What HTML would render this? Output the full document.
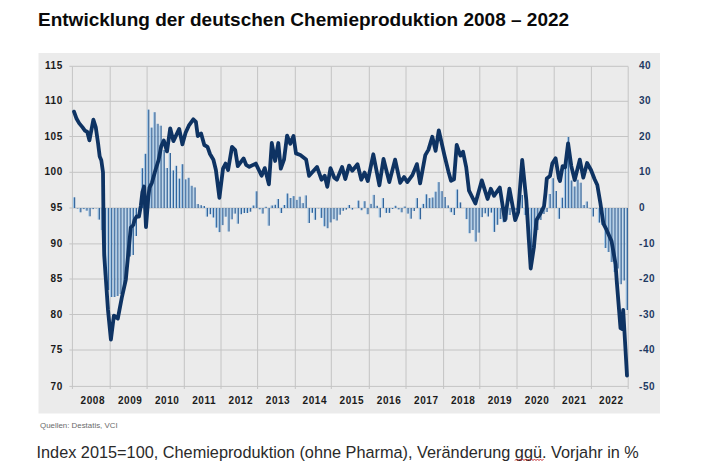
<!DOCTYPE html>
<html><head><meta charset="utf-8"><style>
html,body{margin:0;padding:0;background:#fff;width:702px;height:467px;overflow:hidden;}
svg{position:absolute;left:0;top:0;}
.ax{font-family:"Liberation Sans",sans-serif;font-weight:bold;font-size:10px;letter-spacing:0.55px;fill:#1a1a1a;}
.ar{font-family:"Liberation Sans",sans-serif;font-weight:bold;font-size:10px;letter-spacing:0.55px;fill:#1f3a63;}
.title{position:absolute;left:38px;top:9px;font-family:"Liberation Sans",sans-serif;font-weight:bold;font-size:19px;color:#0a0a0a;white-space:nowrap;}
.src{position:absolute;left:40px;top:420.5px;font-family:"Liberation Sans",sans-serif;font-size:7.9px;color:#6a6a6a;white-space:nowrap;}
.foot{position:absolute;left:36.5px;top:443px;font-family:"Liberation Sans",sans-serif;font-size:16.3px;color:#2a2a2a;white-space:nowrap;}
.sq{text-decoration:underline wavy #d02020;text-decoration-thickness:1px;text-underline-offset:2px;}
</style></head><body>
<svg width="702" height="467" viewBox="0 0 702 467">
<rect x="38.5" y="53" width="621.5" height="360.5" fill="#ebebeb"/>
<line x1="69.4" y1="66.3" x2="628.2" y2="66.3" stroke="#c4c4c4" stroke-width="1"/>
<line x1="69.4" y1="101.3" x2="628.2" y2="101.3" stroke="#c4c4c4" stroke-width="1"/>
<line x1="69.4" y1="136.5" x2="628.2" y2="136.5" stroke="#c4c4c4" stroke-width="1"/>
<line x1="69.4" y1="172.3" x2="628.2" y2="172.3" stroke="#c4c4c4" stroke-width="1"/>
<line x1="69.4" y1="208" x2="628.2" y2="208" stroke="#c4c4c4" stroke-width="1"/>
<line x1="69.4" y1="243.9" x2="628.2" y2="243.9" stroke="#c4c4c4" stroke-width="1"/>
<line x1="69.4" y1="279" x2="628.2" y2="279" stroke="#c4c4c4" stroke-width="1"/>
<line x1="69.4" y1="314.5" x2="628.2" y2="314.5" stroke="#c4c4c4" stroke-width="1"/>
<line x1="69.4" y1="350" x2="628.2" y2="350" stroke="#c4c4c4" stroke-width="1"/>
<line x1="69.4" y1="386.4" x2="628.2" y2="386.4" stroke="#c4c4c4" stroke-width="1"/>
<line x1="72.4" y1="66.5" x2="72.4" y2="389.0" stroke="#c4c4c4" stroke-width="1"/>
<line x1="110.2" y1="66.5" x2="110.2" y2="389.0" stroke="#c4c4c4" stroke-width="1"/>
<line x1="147.1" y1="66.5" x2="147.1" y2="389.0" stroke="#c4c4c4" stroke-width="1"/>
<line x1="184.3" y1="66.5" x2="184.3" y2="389.0" stroke="#c4c4c4" stroke-width="1"/>
<line x1="221" y1="66.5" x2="221" y2="389.0" stroke="#c4c4c4" stroke-width="1"/>
<line x1="257.6" y1="66.5" x2="257.6" y2="389.0" stroke="#c4c4c4" stroke-width="1"/>
<line x1="295.3" y1="66.5" x2="295.3" y2="389.0" stroke="#c4c4c4" stroke-width="1"/>
<line x1="331.3" y1="66.5" x2="331.3" y2="389.0" stroke="#c4c4c4" stroke-width="1"/>
<line x1="369.3" y1="66.5" x2="369.3" y2="389.0" stroke="#c4c4c4" stroke-width="1"/>
<line x1="406" y1="66.5" x2="406" y2="389.0" stroke="#c4c4c4" stroke-width="1"/>
<line x1="443.6" y1="66.5" x2="443.6" y2="389.0" stroke="#c4c4c4" stroke-width="1"/>
<line x1="479.8" y1="66.5" x2="479.8" y2="389.0" stroke="#c4c4c4" stroke-width="1"/>
<line x1="517" y1="66.5" x2="517" y2="389.0" stroke="#c4c4c4" stroke-width="1"/>
<line x1="554.2" y1="66.5" x2="554.2" y2="389.0" stroke="#c4c4c4" stroke-width="1"/>
<line x1="591.4" y1="66.5" x2="591.4" y2="389.0" stroke="#c4c4c4" stroke-width="1"/>
<line x1="628.2" y1="66.5" x2="628.2" y2="389.0" stroke="#c4c4c4" stroke-width="1"/>
<rect x="72.94" y="197.30" width="1.1" height="10.70" fill="#9fc6e8"/>
<rect x="74.04" y="197.30" width="1.2" height="10.70" fill="#33649a"/>
<rect x="76.03" y="208.00" width="1.1" height="0.50" fill="#9fc6e8"/>
<rect x="77.13" y="208.00" width="1.2" height="0.50" fill="#33649a"/>
<rect x="79.12" y="208.00" width="1.1" height="4.30" fill="#9fc6e8"/>
<rect x="80.22" y="208.00" width="1.2" height="4.30" fill="#33649a"/>
<rect x="82.21" y="208.00" width="1.1" height="1.10" fill="#9fc6e8"/>
<rect x="83.31" y="208.00" width="1.2" height="1.10" fill="#33649a"/>
<rect x="85.30" y="208.00" width="1.1" height="2.70" fill="#9fc6e8"/>
<rect x="86.39" y="208.00" width="1.2" height="2.70" fill="#33649a"/>
<rect x="88.38" y="208.00" width="1.1" height="8.30" fill="#9fc6e8"/>
<rect x="89.48" y="208.00" width="1.2" height="8.30" fill="#33649a"/>
<rect x="91.47" y="208.00" width="1.1" height="1.10" fill="#9fc6e8"/>
<rect x="92.57" y="208.00" width="1.2" height="1.10" fill="#33649a"/>
<rect x="94.56" y="208.00" width="1.1" height="0.30" fill="#9fc6e8"/>
<rect x="95.66" y="208.00" width="1.2" height="0.30" fill="#33649a"/>
<rect x="97.65" y="208.00" width="1.1" height="11.60" fill="#9fc6e8"/>
<rect x="98.75" y="208.00" width="1.2" height="11.60" fill="#33649a"/>
<rect x="100.73" y="208.00" width="1.1" height="22.00" fill="#9fc6e8"/>
<rect x="101.83" y="208.00" width="1.2" height="22.00" fill="#33649a"/>
<rect x="103.82" y="208.00" width="1.1" height="67.00" fill="#9fc6e8"/>
<rect x="104.92" y="208.00" width="1.2" height="67.00" fill="#33649a"/>
<rect x="106.91" y="208.00" width="1.1" height="82.00" fill="#9fc6e8"/>
<rect x="108.01" y="208.00" width="1.2" height="82.00" fill="#33649a"/>
<rect x="110.00" y="208.00" width="1.1" height="89.00" fill="#9fc6e8"/>
<rect x="111.10" y="208.00" width="1.2" height="89.00" fill="#33649a"/>
<rect x="113.09" y="208.00" width="1.1" height="89.00" fill="#9fc6e8"/>
<rect x="114.19" y="208.00" width="1.2" height="89.00" fill="#33649a"/>
<rect x="116.17" y="208.00" width="1.1" height="88.00" fill="#9fc6e8"/>
<rect x="117.27" y="208.00" width="1.2" height="88.00" fill="#33649a"/>
<rect x="119.26" y="208.00" width="1.1" height="86.00" fill="#9fc6e8"/>
<rect x="120.36" y="208.00" width="1.2" height="86.00" fill="#33649a"/>
<rect x="122.35" y="208.00" width="1.1" height="81.00" fill="#9fc6e8"/>
<rect x="123.45" y="208.00" width="1.2" height="81.00" fill="#33649a"/>
<rect x="125.44" y="208.00" width="1.1" height="64.00" fill="#9fc6e8"/>
<rect x="126.54" y="208.00" width="1.2" height="64.00" fill="#33649a"/>
<rect x="128.52" y="208.00" width="1.1" height="48.50" fill="#9fc6e8"/>
<rect x="129.62" y="208.00" width="1.2" height="48.50" fill="#33649a"/>
<rect x="131.61" y="208.00" width="1.1" height="47.00" fill="#9fc6e8"/>
<rect x="132.71" y="208.00" width="1.2" height="47.00" fill="#33649a"/>
<rect x="134.70" y="208.00" width="1.1" height="28.00" fill="#9fc6e8"/>
<rect x="135.80" y="208.00" width="1.2" height="28.00" fill="#33649a"/>
<rect x="137.79" y="208.00" width="1.1" height="8.00" fill="#9fc6e8"/>
<rect x="138.89" y="208.00" width="1.2" height="8.00" fill="#33649a"/>
<rect x="140.88" y="168.20" width="1.1" height="39.80" fill="#9fc6e8"/>
<rect x="141.97" y="168.20" width="1.2" height="39.80" fill="#33649a"/>
<rect x="143.96" y="153.80" width="1.1" height="54.20" fill="#9fc6e8"/>
<rect x="145.06" y="153.80" width="1.2" height="54.20" fill="#33649a"/>
<rect x="147.05" y="109.60" width="1.1" height="98.40" fill="#9fc6e8"/>
<rect x="148.15" y="109.60" width="1.2" height="98.40" fill="#33649a"/>
<rect x="150.14" y="127.60" width="1.1" height="80.40" fill="#9fc6e8"/>
<rect x="151.24" y="127.60" width="1.2" height="80.40" fill="#33649a"/>
<rect x="153.23" y="112.20" width="1.1" height="95.80" fill="#9fc6e8"/>
<rect x="154.33" y="112.20" width="1.2" height="95.80" fill="#33649a"/>
<rect x="156.31" y="123.80" width="1.1" height="84.20" fill="#9fc6e8"/>
<rect x="157.41" y="123.80" width="1.2" height="84.20" fill="#33649a"/>
<rect x="159.40" y="125.70" width="1.1" height="82.30" fill="#9fc6e8"/>
<rect x="160.50" y="125.70" width="1.2" height="82.30" fill="#33649a"/>
<rect x="162.49" y="150.00" width="1.1" height="58.00" fill="#9fc6e8"/>
<rect x="163.59" y="150.00" width="1.2" height="58.00" fill="#33649a"/>
<rect x="165.58" y="168.00" width="1.1" height="40.00" fill="#9fc6e8"/>
<rect x="166.68" y="168.00" width="1.2" height="40.00" fill="#33649a"/>
<rect x="168.67" y="153.00" width="1.1" height="55.00" fill="#9fc6e8"/>
<rect x="169.77" y="153.00" width="1.2" height="55.00" fill="#33649a"/>
<rect x="171.75" y="170.40" width="1.1" height="37.60" fill="#9fc6e8"/>
<rect x="172.85" y="170.40" width="1.2" height="37.60" fill="#33649a"/>
<rect x="174.84" y="165.80" width="1.1" height="42.20" fill="#9fc6e8"/>
<rect x="175.94" y="165.80" width="1.2" height="42.20" fill="#33649a"/>
<rect x="177.93" y="178.60" width="1.1" height="29.40" fill="#9fc6e8"/>
<rect x="179.03" y="178.60" width="1.2" height="29.40" fill="#33649a"/>
<rect x="181.02" y="164.20" width="1.1" height="43.80" fill="#9fc6e8"/>
<rect x="182.12" y="164.20" width="1.2" height="43.80" fill="#33649a"/>
<rect x="184.10" y="179.40" width="1.1" height="28.60" fill="#9fc6e8"/>
<rect x="185.20" y="179.40" width="1.2" height="28.60" fill="#33649a"/>
<rect x="187.19" y="177.80" width="1.1" height="30.20" fill="#9fc6e8"/>
<rect x="188.29" y="177.80" width="1.2" height="30.20" fill="#33649a"/>
<rect x="190.28" y="185.80" width="1.1" height="22.20" fill="#9fc6e8"/>
<rect x="191.38" y="185.80" width="1.2" height="22.20" fill="#33649a"/>
<rect x="193.37" y="187.40" width="1.1" height="20.60" fill="#9fc6e8"/>
<rect x="194.47" y="187.40" width="1.2" height="20.60" fill="#33649a"/>
<rect x="196.46" y="204.00" width="1.1" height="4.00" fill="#9fc6e8"/>
<rect x="197.56" y="204.00" width="1.2" height="4.00" fill="#33649a"/>
<rect x="199.54" y="205.20" width="1.1" height="2.80" fill="#9fc6e8"/>
<rect x="200.64" y="205.20" width="1.2" height="2.80" fill="#33649a"/>
<rect x="202.63" y="206.00" width="1.1" height="2.00" fill="#9fc6e8"/>
<rect x="203.73" y="206.00" width="1.2" height="2.00" fill="#33649a"/>
<rect x="205.72" y="208.00" width="1.1" height="8.60" fill="#9fc6e8"/>
<rect x="206.82" y="208.00" width="1.2" height="8.60" fill="#33649a"/>
<rect x="208.81" y="208.00" width="1.1" height="6.20" fill="#9fc6e8"/>
<rect x="209.91" y="208.00" width="1.2" height="6.20" fill="#33649a"/>
<rect x="211.89" y="208.00" width="1.1" height="9.50" fill="#9fc6e8"/>
<rect x="212.99" y="208.00" width="1.2" height="9.50" fill="#33649a"/>
<rect x="214.98" y="208.00" width="1.1" height="19.60" fill="#9fc6e8"/>
<rect x="216.08" y="208.00" width="1.2" height="19.60" fill="#33649a"/>
<rect x="218.07" y="208.00" width="1.1" height="24.10" fill="#9fc6e8"/>
<rect x="219.17" y="208.00" width="1.2" height="24.10" fill="#33649a"/>
<rect x="221.16" y="208.00" width="1.1" height="17.10" fill="#9fc6e8"/>
<rect x="222.26" y="208.00" width="1.2" height="17.10" fill="#33649a"/>
<rect x="224.25" y="208.00" width="1.1" height="8.70" fill="#9fc6e8"/>
<rect x="225.35" y="208.00" width="1.2" height="8.70" fill="#33649a"/>
<rect x="227.33" y="208.00" width="1.1" height="23.50" fill="#9fc6e8"/>
<rect x="228.43" y="208.00" width="1.2" height="23.50" fill="#33649a"/>
<rect x="230.42" y="208.00" width="1.1" height="11.30" fill="#9fc6e8"/>
<rect x="231.52" y="208.00" width="1.2" height="11.30" fill="#33649a"/>
<rect x="233.51" y="208.00" width="1.1" height="5.60" fill="#9fc6e8"/>
<rect x="234.61" y="208.00" width="1.2" height="5.60" fill="#33649a"/>
<rect x="236.60" y="208.00" width="1.1" height="15.70" fill="#9fc6e8"/>
<rect x="237.70" y="208.00" width="1.2" height="15.70" fill="#33649a"/>
<rect x="239.68" y="208.00" width="1.1" height="6.20" fill="#9fc6e8"/>
<rect x="240.78" y="208.00" width="1.2" height="6.20" fill="#33649a"/>
<rect x="242.77" y="208.00" width="1.1" height="5.00" fill="#9fc6e8"/>
<rect x="243.87" y="208.00" width="1.2" height="5.00" fill="#33649a"/>
<rect x="245.86" y="208.00" width="1.1" height="5.00" fill="#9fc6e8"/>
<rect x="246.96" y="208.00" width="1.2" height="5.00" fill="#33649a"/>
<rect x="248.95" y="208.00" width="1.1" height="3.70" fill="#9fc6e8"/>
<rect x="250.05" y="208.00" width="1.2" height="3.70" fill="#33649a"/>
<rect x="252.04" y="205.50" width="1.1" height="2.50" fill="#9fc6e8"/>
<rect x="253.14" y="205.50" width="1.2" height="2.50" fill="#33649a"/>
<rect x="255.12" y="191.30" width="1.1" height="16.70" fill="#9fc6e8"/>
<rect x="256.22" y="191.30" width="1.2" height="16.70" fill="#33649a"/>
<rect x="258.21" y="208.00" width="1.1" height="1.30" fill="#9fc6e8"/>
<rect x="259.31" y="208.00" width="1.2" height="1.30" fill="#33649a"/>
<rect x="261.30" y="208.00" width="1.1" height="5.60" fill="#9fc6e8"/>
<rect x="262.40" y="208.00" width="1.2" height="5.60" fill="#33649a"/>
<rect x="264.39" y="206.80" width="1.1" height="1.20" fill="#9fc6e8"/>
<rect x="265.49" y="206.80" width="1.2" height="1.20" fill="#33649a"/>
<rect x="267.47" y="208.00" width="1.1" height="17.70" fill="#9fc6e8"/>
<rect x="268.57" y="208.00" width="1.2" height="17.70" fill="#33649a"/>
<rect x="270.56" y="205.50" width="1.1" height="2.50" fill="#9fc6e8"/>
<rect x="271.66" y="205.50" width="1.2" height="2.50" fill="#33649a"/>
<rect x="273.65" y="204.80" width="1.1" height="3.20" fill="#9fc6e8"/>
<rect x="274.75" y="204.80" width="1.2" height="3.20" fill="#33649a"/>
<rect x="276.74" y="199.00" width="1.1" height="9.00" fill="#9fc6e8"/>
<rect x="277.84" y="199.00" width="1.2" height="9.00" fill="#33649a"/>
<rect x="279.83" y="208.00" width="1.1" height="5.00" fill="#9fc6e8"/>
<rect x="280.93" y="208.00" width="1.2" height="5.00" fill="#33649a"/>
<rect x="282.91" y="205.00" width="1.1" height="3.00" fill="#9fc6e8"/>
<rect x="284.01" y="205.00" width="1.2" height="3.00" fill="#33649a"/>
<rect x="286.00" y="193.50" width="1.1" height="14.50" fill="#9fc6e8"/>
<rect x="287.10" y="193.50" width="1.2" height="14.50" fill="#33649a"/>
<rect x="289.09" y="198.00" width="1.1" height="10.00" fill="#9fc6e8"/>
<rect x="290.19" y="198.00" width="1.2" height="10.00" fill="#33649a"/>
<rect x="292.18" y="196.10" width="1.1" height="11.90" fill="#9fc6e8"/>
<rect x="293.28" y="196.10" width="1.2" height="11.90" fill="#33649a"/>
<rect x="295.26" y="199.90" width="1.1" height="8.10" fill="#9fc6e8"/>
<rect x="296.36" y="199.90" width="1.2" height="8.10" fill="#33649a"/>
<rect x="298.35" y="196.70" width="1.1" height="11.30" fill="#9fc6e8"/>
<rect x="299.45" y="196.70" width="1.2" height="11.30" fill="#33649a"/>
<rect x="301.44" y="203.10" width="1.1" height="4.90" fill="#9fc6e8"/>
<rect x="302.54" y="203.10" width="1.2" height="4.90" fill="#33649a"/>
<rect x="304.53" y="195.40" width="1.1" height="12.60" fill="#9fc6e8"/>
<rect x="305.63" y="195.40" width="1.2" height="12.60" fill="#33649a"/>
<rect x="307.62" y="208.00" width="1.1" height="15.00" fill="#9fc6e8"/>
<rect x="308.72" y="208.00" width="1.2" height="15.00" fill="#33649a"/>
<rect x="310.70" y="208.00" width="1.1" height="4.80" fill="#9fc6e8"/>
<rect x="311.80" y="208.00" width="1.2" height="4.80" fill="#33649a"/>
<rect x="313.79" y="208.00" width="1.1" height="11.80" fill="#9fc6e8"/>
<rect x="314.89" y="208.00" width="1.2" height="11.80" fill="#33649a"/>
<rect x="316.88" y="208.00" width="1.1" height="0.30" fill="#9fc6e8"/>
<rect x="317.98" y="208.00" width="1.2" height="0.30" fill="#33649a"/>
<rect x="319.97" y="208.00" width="1.1" height="9.90" fill="#9fc6e8"/>
<rect x="321.07" y="208.00" width="1.2" height="9.90" fill="#33649a"/>
<rect x="323.05" y="208.00" width="1.1" height="18.30" fill="#9fc6e8"/>
<rect x="324.15" y="208.00" width="1.2" height="18.30" fill="#33649a"/>
<rect x="326.14" y="208.00" width="1.1" height="20.20" fill="#9fc6e8"/>
<rect x="327.24" y="208.00" width="1.2" height="20.20" fill="#33649a"/>
<rect x="329.23" y="208.00" width="1.1" height="14.40" fill="#9fc6e8"/>
<rect x="330.33" y="208.00" width="1.2" height="14.40" fill="#33649a"/>
<rect x="332.32" y="208.00" width="1.1" height="11.20" fill="#9fc6e8"/>
<rect x="333.42" y="208.00" width="1.2" height="11.20" fill="#33649a"/>
<rect x="335.41" y="208.00" width="1.1" height="12.50" fill="#9fc6e8"/>
<rect x="336.51" y="208.00" width="1.2" height="12.50" fill="#33649a"/>
<rect x="338.49" y="208.00" width="1.1" height="6.70" fill="#9fc6e8"/>
<rect x="339.59" y="208.00" width="1.2" height="6.70" fill="#33649a"/>
<rect x="341.58" y="208.00" width="1.1" height="2.80" fill="#9fc6e8"/>
<rect x="342.68" y="208.00" width="1.2" height="2.80" fill="#33649a"/>
<rect x="344.67" y="208.00" width="1.1" height="1.60" fill="#9fc6e8"/>
<rect x="345.77" y="208.00" width="1.2" height="1.60" fill="#33649a"/>
<rect x="347.76" y="205.00" width="1.1" height="3.00" fill="#9fc6e8"/>
<rect x="348.86" y="205.00" width="1.2" height="3.00" fill="#33649a"/>
<rect x="350.84" y="208.00" width="1.1" height="1.60" fill="#9fc6e8"/>
<rect x="351.94" y="208.00" width="1.2" height="1.60" fill="#33649a"/>
<rect x="353.93" y="208.00" width="1.1" height="0.00" fill="#9fc6e8"/>
<rect x="355.03" y="208.00" width="1.2" height="0.00" fill="#33649a"/>
<rect x="357.02" y="200.60" width="1.1" height="7.40" fill="#9fc6e8"/>
<rect x="358.12" y="200.60" width="1.2" height="7.40" fill="#33649a"/>
<rect x="360.11" y="208.00" width="1.1" height="2.20" fill="#9fc6e8"/>
<rect x="361.21" y="208.00" width="1.2" height="2.20" fill="#33649a"/>
<rect x="363.20" y="201.20" width="1.1" height="6.80" fill="#9fc6e8"/>
<rect x="364.30" y="201.20" width="1.2" height="6.80" fill="#33649a"/>
<rect x="366.28" y="208.00" width="1.1" height="6.20" fill="#9fc6e8"/>
<rect x="367.38" y="208.00" width="1.2" height="6.20" fill="#33649a"/>
<rect x="369.37" y="203.90" width="1.1" height="4.10" fill="#9fc6e8"/>
<rect x="370.47" y="203.90" width="1.2" height="4.10" fill="#33649a"/>
<rect x="372.46" y="194.90" width="1.1" height="13.10" fill="#9fc6e8"/>
<rect x="373.56" y="194.90" width="1.2" height="13.10" fill="#33649a"/>
<rect x="375.55" y="205.80" width="1.1" height="2.20" fill="#9fc6e8"/>
<rect x="376.65" y="205.80" width="1.2" height="2.20" fill="#33649a"/>
<rect x="378.63" y="208.00" width="1.1" height="9.40" fill="#9fc6e8"/>
<rect x="379.73" y="208.00" width="1.2" height="9.40" fill="#33649a"/>
<rect x="381.72" y="198.10" width="1.1" height="9.90" fill="#9fc6e8"/>
<rect x="382.82" y="198.10" width="1.2" height="9.90" fill="#33649a"/>
<rect x="384.81" y="208.00" width="1.1" height="4.90" fill="#9fc6e8"/>
<rect x="385.91" y="208.00" width="1.2" height="4.90" fill="#33649a"/>
<rect x="387.90" y="208.00" width="1.1" height="4.90" fill="#9fc6e8"/>
<rect x="389.00" y="208.00" width="1.2" height="4.90" fill="#33649a"/>
<rect x="390.99" y="208.00" width="1.1" height="1.00" fill="#9fc6e8"/>
<rect x="392.09" y="208.00" width="1.2" height="1.00" fill="#33649a"/>
<rect x="394.07" y="205.80" width="1.1" height="2.20" fill="#9fc6e8"/>
<rect x="395.17" y="205.80" width="1.2" height="2.20" fill="#33649a"/>
<rect x="397.16" y="208.00" width="1.1" height="1.40" fill="#9fc6e8"/>
<rect x="398.26" y="208.00" width="1.2" height="1.40" fill="#33649a"/>
<rect x="400.25" y="208.00" width="1.1" height="4.30" fill="#9fc6e8"/>
<rect x="401.35" y="208.00" width="1.2" height="4.30" fill="#33649a"/>
<rect x="403.34" y="206.50" width="1.1" height="1.50" fill="#9fc6e8"/>
<rect x="404.44" y="206.50" width="1.2" height="1.50" fill="#33649a"/>
<rect x="406.42" y="208.00" width="1.1" height="5.60" fill="#9fc6e8"/>
<rect x="407.52" y="208.00" width="1.2" height="5.60" fill="#33649a"/>
<rect x="409.51" y="208.00" width="1.1" height="10.70" fill="#9fc6e8"/>
<rect x="410.61" y="208.00" width="1.2" height="10.70" fill="#33649a"/>
<rect x="412.60" y="208.00" width="1.1" height="3.00" fill="#9fc6e8"/>
<rect x="413.70" y="208.00" width="1.2" height="3.00" fill="#33649a"/>
<rect x="415.69" y="198.10" width="1.1" height="9.90" fill="#9fc6e8"/>
<rect x="416.79" y="198.10" width="1.2" height="9.90" fill="#33649a"/>
<rect x="418.78" y="208.00" width="1.1" height="11.30" fill="#9fc6e8"/>
<rect x="419.88" y="208.00" width="1.2" height="11.30" fill="#33649a"/>
<rect x="421.86" y="203.90" width="1.1" height="4.10" fill="#9fc6e8"/>
<rect x="422.96" y="203.90" width="1.2" height="4.10" fill="#33649a"/>
<rect x="424.95" y="194.30" width="1.1" height="13.70" fill="#9fc6e8"/>
<rect x="426.05" y="194.30" width="1.2" height="13.70" fill="#33649a"/>
<rect x="428.04" y="198.10" width="1.1" height="9.90" fill="#9fc6e8"/>
<rect x="429.14" y="198.10" width="1.2" height="9.90" fill="#33649a"/>
<rect x="431.13" y="197.50" width="1.1" height="10.50" fill="#9fc6e8"/>
<rect x="432.23" y="197.50" width="1.2" height="10.50" fill="#33649a"/>
<rect x="434.21" y="191.70" width="1.1" height="16.30" fill="#9fc6e8"/>
<rect x="435.31" y="191.70" width="1.2" height="16.30" fill="#33649a"/>
<rect x="437.30" y="182.10" width="1.1" height="25.90" fill="#9fc6e8"/>
<rect x="438.40" y="182.10" width="1.2" height="25.90" fill="#33649a"/>
<rect x="440.39" y="191.10" width="1.1" height="16.90" fill="#9fc6e8"/>
<rect x="441.49" y="191.10" width="1.2" height="16.90" fill="#33649a"/>
<rect x="443.48" y="197.00" width="1.1" height="11.00" fill="#9fc6e8"/>
<rect x="444.58" y="197.00" width="1.2" height="11.00" fill="#33649a"/>
<rect x="446.57" y="205.40" width="1.1" height="2.60" fill="#9fc6e8"/>
<rect x="447.67" y="205.40" width="1.2" height="2.60" fill="#33649a"/>
<rect x="449.65" y="208.00" width="1.1" height="4.20" fill="#9fc6e8"/>
<rect x="450.75" y="208.00" width="1.2" height="4.20" fill="#33649a"/>
<rect x="452.74" y="208.00" width="1.1" height="7.00" fill="#9fc6e8"/>
<rect x="453.84" y="208.00" width="1.2" height="7.00" fill="#33649a"/>
<rect x="455.83" y="189.50" width="1.1" height="18.50" fill="#9fc6e8"/>
<rect x="456.93" y="189.50" width="1.2" height="18.50" fill="#33649a"/>
<rect x="458.92" y="202.40" width="1.1" height="5.60" fill="#9fc6e8"/>
<rect x="460.02" y="202.40" width="1.2" height="5.60" fill="#33649a"/>
<rect x="462.00" y="208.00" width="1.1" height="0.00" fill="#9fc6e8"/>
<rect x="463.10" y="208.00" width="1.2" height="0.00" fill="#33649a"/>
<rect x="465.09" y="208.00" width="1.1" height="11.10" fill="#9fc6e8"/>
<rect x="466.19" y="208.00" width="1.2" height="11.10" fill="#33649a"/>
<rect x="468.18" y="208.00" width="1.1" height="25.20" fill="#9fc6e8"/>
<rect x="469.28" y="208.00" width="1.2" height="25.20" fill="#33649a"/>
<rect x="471.27" y="208.00" width="1.1" height="22.00" fill="#9fc6e8"/>
<rect x="472.37" y="208.00" width="1.2" height="22.00" fill="#33649a"/>
<rect x="474.36" y="208.00" width="1.1" height="33.60" fill="#9fc6e8"/>
<rect x="475.46" y="208.00" width="1.2" height="33.60" fill="#33649a"/>
<rect x="477.44" y="208.00" width="1.1" height="24.60" fill="#9fc6e8"/>
<rect x="478.54" y="208.00" width="1.2" height="24.60" fill="#33649a"/>
<rect x="480.53" y="208.00" width="1.1" height="9.10" fill="#9fc6e8"/>
<rect x="481.63" y="208.00" width="1.2" height="9.10" fill="#33649a"/>
<rect x="483.62" y="208.00" width="1.1" height="5.30" fill="#9fc6e8"/>
<rect x="484.72" y="208.00" width="1.2" height="5.30" fill="#33649a"/>
<rect x="486.71" y="208.00" width="1.1" height="8.50" fill="#9fc6e8"/>
<rect x="487.81" y="208.00" width="1.2" height="8.50" fill="#33649a"/>
<rect x="489.79" y="208.00" width="1.1" height="4.60" fill="#9fc6e8"/>
<rect x="490.89" y="208.00" width="1.2" height="4.60" fill="#33649a"/>
<rect x="492.88" y="208.00" width="1.1" height="23.90" fill="#9fc6e8"/>
<rect x="493.98" y="208.00" width="1.2" height="23.90" fill="#33649a"/>
<rect x="495.97" y="208.00" width="1.1" height="16.80" fill="#9fc6e8"/>
<rect x="497.07" y="208.00" width="1.2" height="16.80" fill="#33649a"/>
<rect x="499.06" y="208.00" width="1.1" height="11.00" fill="#9fc6e8"/>
<rect x="500.16" y="208.00" width="1.2" height="11.00" fill="#33649a"/>
<rect x="502.15" y="208.00" width="1.1" height="14.30" fill="#9fc6e8"/>
<rect x="503.25" y="208.00" width="1.2" height="14.30" fill="#33649a"/>
<rect x="505.23" y="208.00" width="1.1" height="11.70" fill="#9fc6e8"/>
<rect x="506.33" y="208.00" width="1.2" height="11.70" fill="#33649a"/>
<rect x="508.32" y="208.00" width="1.1" height="7.00" fill="#9fc6e8"/>
<rect x="509.42" y="208.00" width="1.2" height="7.00" fill="#33649a"/>
<rect x="511.41" y="208.00" width="1.1" height="4.00" fill="#9fc6e8"/>
<rect x="512.51" y="208.00" width="1.2" height="4.00" fill="#33649a"/>
<rect x="514.50" y="208.00" width="1.1" height="2.00" fill="#9fc6e8"/>
<rect x="515.60" y="208.00" width="1.2" height="2.00" fill="#33649a"/>
<rect x="517.58" y="206.00" width="1.1" height="2.00" fill="#9fc6e8"/>
<rect x="518.68" y="206.00" width="1.2" height="2.00" fill="#33649a"/>
<rect x="520.67" y="195.00" width="1.1" height="13.00" fill="#9fc6e8"/>
<rect x="521.77" y="195.00" width="1.2" height="13.00" fill="#33649a"/>
<rect x="523.76" y="208.00" width="1.1" height="7.00" fill="#9fc6e8"/>
<rect x="524.86" y="208.00" width="1.2" height="7.00" fill="#33649a"/>
<rect x="526.85" y="208.00" width="1.1" height="32.00" fill="#9fc6e8"/>
<rect x="527.95" y="208.00" width="1.2" height="32.00" fill="#33649a"/>
<rect x="529.94" y="208.00" width="1.1" height="54.00" fill="#9fc6e8"/>
<rect x="531.04" y="208.00" width="1.2" height="54.00" fill="#33649a"/>
<rect x="533.02" y="208.00" width="1.1" height="40.00" fill="#9fc6e8"/>
<rect x="534.12" y="208.00" width="1.2" height="40.00" fill="#33649a"/>
<rect x="536.11" y="208.00" width="1.1" height="22.00" fill="#9fc6e8"/>
<rect x="537.21" y="208.00" width="1.2" height="22.00" fill="#33649a"/>
<rect x="539.20" y="208.00" width="1.1" height="12.00" fill="#9fc6e8"/>
<rect x="540.30" y="208.00" width="1.2" height="12.00" fill="#33649a"/>
<rect x="542.29" y="208.00" width="1.1" height="6.00" fill="#9fc6e8"/>
<rect x="543.39" y="208.00" width="1.2" height="6.00" fill="#33649a"/>
<rect x="545.37" y="208.00" width="1.1" height="4.00" fill="#9fc6e8"/>
<rect x="546.47" y="208.00" width="1.2" height="4.00" fill="#33649a"/>
<rect x="548.46" y="194.00" width="1.1" height="14.00" fill="#9fc6e8"/>
<rect x="549.56" y="194.00" width="1.2" height="14.00" fill="#33649a"/>
<rect x="551.55" y="178.20" width="1.1" height="29.80" fill="#9fc6e8"/>
<rect x="552.65" y="178.20" width="1.2" height="29.80" fill="#33649a"/>
<rect x="554.64" y="191.00" width="1.1" height="17.00" fill="#9fc6e8"/>
<rect x="555.74" y="191.00" width="1.2" height="17.00" fill="#33649a"/>
<rect x="557.73" y="208.00" width="1.1" height="10.80" fill="#9fc6e8"/>
<rect x="558.83" y="208.00" width="1.2" height="10.80" fill="#33649a"/>
<rect x="560.81" y="197.70" width="1.1" height="10.30" fill="#9fc6e8"/>
<rect x="561.91" y="197.70" width="1.2" height="10.30" fill="#33649a"/>
<rect x="563.90" y="168.50" width="1.1" height="39.50" fill="#9fc6e8"/>
<rect x="565.00" y="168.50" width="1.2" height="39.50" fill="#33649a"/>
<rect x="566.99" y="137.00" width="1.1" height="71.00" fill="#9fc6e8"/>
<rect x="568.09" y="137.00" width="1.2" height="71.00" fill="#33649a"/>
<rect x="570.08" y="180.50" width="1.1" height="27.50" fill="#9fc6e8"/>
<rect x="571.18" y="180.50" width="1.2" height="27.50" fill="#33649a"/>
<rect x="573.16" y="186.50" width="1.1" height="21.50" fill="#9fc6e8"/>
<rect x="574.26" y="186.50" width="1.2" height="21.50" fill="#33649a"/>
<rect x="576.25" y="179.70" width="1.1" height="28.30" fill="#9fc6e8"/>
<rect x="577.35" y="179.70" width="1.2" height="28.30" fill="#33649a"/>
<rect x="579.34" y="182.70" width="1.1" height="25.30" fill="#9fc6e8"/>
<rect x="580.44" y="182.70" width="1.2" height="25.30" fill="#33649a"/>
<rect x="582.43" y="205.00" width="1.1" height="3.00" fill="#9fc6e8"/>
<rect x="583.53" y="205.00" width="1.2" height="3.00" fill="#33649a"/>
<rect x="585.52" y="201.50" width="1.1" height="6.50" fill="#9fc6e8"/>
<rect x="586.62" y="201.50" width="1.2" height="6.50" fill="#33649a"/>
<rect x="588.60" y="208.00" width="1.1" height="0.60" fill="#9fc6e8"/>
<rect x="589.70" y="208.00" width="1.2" height="0.60" fill="#33649a"/>
<rect x="591.69" y="208.00" width="1.1" height="8.50" fill="#9fc6e8"/>
<rect x="592.79" y="208.00" width="1.2" height="8.50" fill="#33649a"/>
<rect x="594.78" y="208.00" width="1.1" height="0.60" fill="#9fc6e8"/>
<rect x="595.88" y="208.00" width="1.2" height="0.60" fill="#33649a"/>
<rect x="597.87" y="208.00" width="1.1" height="14.60" fill="#9fc6e8"/>
<rect x="598.97" y="208.00" width="1.2" height="14.60" fill="#33649a"/>
<rect x="600.95" y="208.00" width="1.1" height="17.00" fill="#9fc6e8"/>
<rect x="602.05" y="208.00" width="1.2" height="17.00" fill="#33649a"/>
<rect x="604.04" y="208.00" width="1.1" height="40.00" fill="#9fc6e8"/>
<rect x="605.14" y="208.00" width="1.2" height="40.00" fill="#33649a"/>
<rect x="607.13" y="208.00" width="1.1" height="44.00" fill="#9fc6e8"/>
<rect x="608.23" y="208.00" width="1.2" height="44.00" fill="#33649a"/>
<rect x="610.22" y="208.00" width="1.1" height="54.00" fill="#9fc6e8"/>
<rect x="611.32" y="208.00" width="1.2" height="54.00" fill="#33649a"/>
<rect x="613.31" y="208.00" width="1.1" height="64.00" fill="#9fc6e8"/>
<rect x="614.41" y="208.00" width="1.2" height="64.00" fill="#33649a"/>
<rect x="616.39" y="208.00" width="1.1" height="60.50" fill="#9fc6e8"/>
<rect x="617.49" y="208.00" width="1.2" height="60.50" fill="#33649a"/>
<rect x="619.48" y="208.00" width="1.1" height="76.20" fill="#9fc6e8"/>
<rect x="620.58" y="208.00" width="1.2" height="76.20" fill="#33649a"/>
<rect x="622.57" y="208.00" width="1.1" height="72.50" fill="#9fc6e8"/>
<rect x="623.67" y="208.00" width="1.2" height="72.50" fill="#33649a"/>
<rect x="625.66" y="208.00" width="1.1" height="102.00" fill="#9fc6e8"/>
<rect x="626.76" y="208.00" width="1.2" height="102.00" fill="#33649a"/>
<path d="M74.0,111.6 L76.6,118.8 L79.1,123.1 L82.6,127.4 L85.1,130.8 L87.2,131.7 L89.4,140.3 L93.4,119.7 L95.8,127.4 L98.0,142.8 L99.7,156.5 L101.3,160.3 L103.0,172.3 L103.6,230.0 L104.2,255.0 L108.0,310.0 L110.9,339.5 L113.9,315.6 L117.8,318.6 L121.8,297.7 L125.8,279.8 L128.6,250.0 L130.8,227.5 L133.3,225.0 L134.6,219.7 L136.8,216.3 L139.0,216.5 L140.8,206.0 L142.4,192.0 L144.1,186.5 L146.0,227.2 L148.3,197.0 L149.5,187.6 L151.9,182.8 L155.7,169.3 L158.6,160.0 L161.2,146.3 L163.8,140.5 L167.0,151.4 L170.2,128.3 L173.4,141.1 L179.2,128.9 L182.4,144.3 L185.6,132.8 L188.8,125.7 L193.3,119.3 L195.9,121.9 L197.8,136.0 L201.1,133.4 L204.3,145.0 L207.5,146.9 L210.0,154.0 L213.4,159.7 L215.9,170.0 L219.4,197.8 L223.0,168.7 L225.6,163.6 L228.1,170.0 L232.0,146.9 L235.2,150.1 L237.8,166.1 L243.6,158.4 L246.1,164.8 L249.3,166.8 L255.8,163.6 L261.6,175.8 L264.8,168.1 L268.9,184.3 L271.8,143.0 L275.1,161.0 L278.3,143.0 L280.8,168.7 L284.0,159.7 L287.1,135.6 L290.3,143.7 L293.5,136.0 L296.0,153.4 L300.3,155.0 L306.1,159.5 L309.1,175.8 L317.0,166.9 L321.5,179.7 L324.7,175.8 L327.3,186.8 L330.5,168.1 L334.3,177.8 L336.9,179.7 L342.1,166.9 L345.3,179.1 L349.1,165.6 L352.3,170.7 L357.5,164.3 L361.3,179.7 L364.6,172.6 L367.8,181.0 L373.3,154.3 L379.4,185.3 L383.5,159.0 L389.3,182.1 L395.1,159.6 L400.2,182.8 L404.1,177.0 L407.3,182.1 L412.4,175.1 L416.9,164.1 L420.1,183.4 L425.3,155.1 L428.5,149.6 L432.3,136.7 L435.6,150.8 L438.8,130.3 L444.6,156.0 L448.4,171.4 L451.0,180.8 L454.0,179.3 L456.7,145.0 L460.4,155.6 L463.0,151.7 L466.2,167.1 L469.0,190.7 L475.4,203.5 L481.8,180.4 L487.6,199.0 L490.8,188.7 L494.0,195.8 L499.8,187.5 L504.9,220.2 L509.4,188.7 L515.2,220.2 L518.1,212.3 L522.2,160.0 L526.3,200.0 L530.7,268.5 L533.8,248.0 L536.5,220.0 L540.7,213.0 L544.0,206.4 L545.5,193.0 L546.8,178.5 L550.0,176.0 L552.3,163.6 L555.6,158.3 L558.8,178.0 L560.0,181.0 L562.6,166.1 L565.1,167.4 L568.1,143.3 L571.3,166.1 L574.7,180.0 L579.8,159.6 L583.3,177.6 L587.1,163.0 L591.0,170.0 L594.5,179.0 L597.3,185.0 L600.4,203.3 L603.4,223.6 L606.5,229.7 L611.5,240.9 L615.6,264.3 L616.7,280.5 L620.5,328.0 L622.3,329.0 L623.2,310.0 L627.0,375.6" fill="none" stroke="#0e3363" stroke-width="3.8" stroke-linejoin="round" stroke-linecap="round"/>
<text x="62.8" y="69.4" text-anchor="end" class="ax">115</text>
<text x="62.8" y="104.4" text-anchor="end" class="ax">110</text>
<text x="62.8" y="139.6" text-anchor="end" class="ax">105</text>
<text x="62.8" y="175.4" text-anchor="end" class="ax">100</text>
<text x="62.8" y="211.1" text-anchor="end" class="ax">95</text>
<text x="62.8" y="247.0" text-anchor="end" class="ax">90</text>
<text x="62.8" y="282.1" text-anchor="end" class="ax">85</text>
<text x="62.8" y="317.6" text-anchor="end" class="ax">80</text>
<text x="62.8" y="353.1" text-anchor="end" class="ax">75</text>
<text x="62.8" y="389.5" text-anchor="end" class="ax">70</text>
<text x="639" y="69.4" class="ar">40</text>
<text x="639" y="104.4" class="ar">30</text>
<text x="639" y="139.6" class="ar">20</text>
<text x="639" y="175.4" class="ar">10</text>
<text x="639" y="211.1" class="ar">0</text>
<text x="639" y="247.0" class="ar">-10</text>
<text x="639" y="282.1" class="ar">-20</text>
<text x="639" y="317.6" class="ar">-30</text>
<text x="639" y="353.1" class="ar">-40</text>
<text x="639" y="389.5" class="ar">-50</text>
<text x="92.8" y="404" text-anchor="middle" class="ax">2008</text>
<text x="130.2" y="404" text-anchor="middle" class="ax">2009</text>
<text x="167.2" y="404" text-anchor="middle" class="ax">2010</text>
<text x="204.2" y="404" text-anchor="middle" class="ax">2011</text>
<text x="240.8" y="404" text-anchor="middle" class="ax">2012</text>
<text x="278.0" y="404" text-anchor="middle" class="ax">2013</text>
<text x="314.8" y="404" text-anchor="middle" class="ax">2014</text>
<text x="351.8" y="404" text-anchor="middle" class="ax">2015</text>
<text x="389.1" y="404" text-anchor="middle" class="ax">2016</text>
<text x="426.3" y="404" text-anchor="middle" class="ax">2017</text>
<text x="463.2" y="404" text-anchor="middle" class="ax">2018</text>
<text x="499.9" y="404" text-anchor="middle" class="ax">2019</text>
<text x="537.1" y="404" text-anchor="middle" class="ax">2020</text>
<text x="574.3" y="404" text-anchor="middle" class="ax">2021</text>
<text x="611.3" y="404" text-anchor="middle" class="ax">2022</text>
</svg>
<div class="title">Entwicklung der deutschen Chemieproduktion 2008 – 2022</div>
<div class="src">Quellen: Destatis, VCI</div>
<div class="foot">Index 2015=100, Chemieproduktion (ohne Pharma), Veränderung ggü. Vorjahr in %</div>
<svg width="702" height="467" style="position:absolute;left:0;top:0"><path d="M515,460.6 l1.5,-1.6 l1.5,1.6 l1.5,-1.6 l1.5,1.6 l1.5,-1.6 l1.5,1.6 l1.5,-1.6 l1.5,1.6 l1.5,-1.6 l1.5,1.6 l1.5,-1.6 l1.5,1.6 l1.5,-1.6 l1.5,1.6 l1.5,-1.6 l1.5,1.6 l1.5,-1.6 l1.5,1.6 l1.5,-1.6" fill="none" stroke="#c8353a" stroke-width="1"/></svg>
</body></html>
